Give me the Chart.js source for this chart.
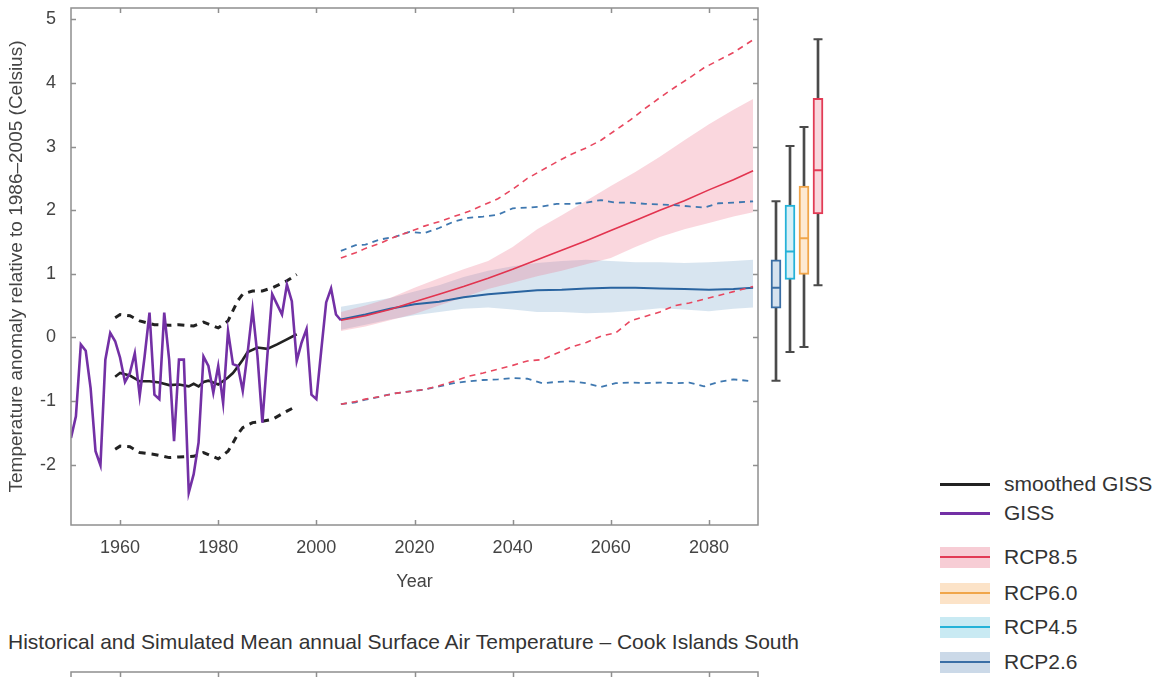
<!DOCTYPE html>
<html>
<head>
<meta charset="utf-8">
<script src="https://cdn.jsdelivr.net/npm/chart.js@4.4.1/dist/chart.umd.min.js"></script>
<style>
  html, body { margin: 0; padding: 0; background: #fff; overflow: hidden; }
  body { width: 1159px; height: 677px; position: relative; font-family: 'Liberation Sans', Arial, sans-serif; }
  canvas { position: absolute; }
  #main { left: 0; top: 0; }
  #boxes { left: 769px; top: 0; }
  #below { left: 0; top: 670px; }
  #title { position: absolute; left: 8px; top: 630px; font-size: 21px; color: #333; white-space: nowrap; }
  .lg { position: absolute; left: 940px; height: 0; }
  .lg .patch { position: absolute; left: 0; top: -10px; width: 50px; height: 21px; }
  .lg .ln { position: absolute; left: 0; width: 50px; }
  .lg span { position: absolute; left: 64px; top: 0; font-size: 21px; color: #333; white-space: nowrap; transform: translateY(-52%); }
</style>
</head>
<body>
<canvas id="main" width="770" height="600"></canvas>
<canvas id="boxes" width="56" height="540"></canvas>
<canvas id="below" width="770" height="100"></canvas>
<div id="title">Historical and Simulated Mean annual Surface Air Temperature – Cook Islands South</div>
<div id="legend"></div>
<script>
// ---- data ----
const xTicks = [1960, 1980, 2000, 2020, 2040, 2060, 2080];
const yTicks = [-2, -1, 0, 1, 2, 3, 4, 5];

const gissYears = [];
for (let y = 1950; y <= 2005; y++) gissYears.push(y);
const gissValues = [
  -1.58, -1.24, -0.11, -0.21, -0.80, -1.79, -2.01, -0.35, 0.07, -0.06,
  -0.32, -0.70, -0.56, -0.25, -0.92, -0.30, 0.39, -0.90, -0.97, 0.39,
  -0.35, -1.63, -0.35, -0.35, -2.44, -2.15, -1.65, -0.30, -0.45, -0.87,
  -0.45, -1.03, 0.10, -0.42, -0.45, -0.84, -0.24, 0.44, -0.29, -1.34,
  -0.30, 0.68, 0.52, 0.36, 0.83, 0.57, -0.37, -0.08, 0.13, -0.90,
  -0.97, -0.20, 0.55, 0.77, 0.36, 0.27
];

const smoothYears = [1959, 1960, 1961, 1962, 1964, 1966, 1968, 1970, 1972, 1974, 1975, 1976, 1977, 1978, 1980, 1982, 1983, 1984, 1985, 1986, 1988, 1990, 1992, 1994, 1996];
const smoothValues = [-0.62, -0.56, -0.58, -0.60, -0.69, -0.69, -0.71, -0.75, -0.74, -0.77, -0.73, -0.77, -0.70, -0.68, -0.74, -0.63, -0.56, -0.46, -0.35, -0.23, -0.16, -0.18, -0.11, -0.03, 0.05];

const smoothBandYears = [1959, 1960, 1962, 1964, 1967, 1970, 1972, 1975, 1977, 1980, 1982, 1983, 1984, 1985, 1987, 1989, 1991, 1994, 1996];
const smoothHi = [0.31, 0.36, 0.34, 0.26, 0.20, 0.19, 0.20, 0.18, 0.24, 0.15, 0.26, 0.42, 0.58, 0.68, 0.73, 0.73, 0.78, 0.89, 0.99];
const smoothLo = [-1.76, -1.71, -1.72, -1.81, -1.84, -1.89, -1.88, -1.87, -1.81, -1.91, -1.79, -1.66, -1.52, -1.42, -1.34, -1.32, -1.29, -1.16, -1.08];

const projYears = [2005, 2010, 2015, 2020, 2025, 2030, 2035, 2040, 2045, 2050, 2055, 2060, 2065, 2070, 2075, 2080, 2085, 2089];
const rcp85Mean = [0.27, 0.34, 0.44, 0.56, 0.68, 0.80, 0.93, 1.07, 1.22, 1.37, 1.52, 1.68, 1.84, 2.00, 2.15, 2.32, 2.48, 2.62];
const rcp85Lo = [0.10, 0.17, 0.27, 0.37, 0.50, 0.63, 0.76, 0.86, 0.96, 1.05, 1.15, 1.25, 1.42, 1.58, 1.70, 1.80, 1.90, 1.97];
const rcp85Hi = [0.40, 0.50, 0.62, 0.78, 0.93, 1.07, 1.20, 1.42, 1.70, 1.92, 2.15, 2.38, 2.60, 2.84, 3.10, 3.35, 3.58, 3.75];
const rcp26Mean = [0.28, 0.36, 0.45, 0.52, 0.56, 0.63, 0.68, 0.71, 0.74, 0.75, 0.77, 0.78, 0.78, 0.77, 0.76, 0.75, 0.76, 0.78];
const rcp26Lo = [0.12, 0.20, 0.28, 0.35, 0.40, 0.45, 0.47, 0.44, 0.40, 0.40, 0.38, 0.39, 0.42, 0.46, 0.44, 0.41, 0.45, 0.47];
const rcp26Hi = [0.48, 0.55, 0.62, 0.72, 0.82, 0.95, 1.05, 1.12, 1.17, 1.20, 1.22, 1.20, 1.18, 1.18, 1.17, 1.18, 1.20, 1.22];

const rangeYears = [2005, 2008, 2010, 2013, 2016, 2019, 2022, 2025, 2028, 2031, 2034, 2037, 2040, 2043, 2046, 2049, 2052, 2055, 2058, 2061, 2064, 2067, 2070, 2073, 2076, 2079, 2082, 2085, 2089];
const rcp85Max = [1.25, 1.33, 1.40, 1.48, 1.58, 1.66, 1.75, 1.82, 1.90, 1.98, 2.08, 2.18, 2.33, 2.50, 2.63, 2.76, 2.88, 2.98, 3.10, 3.26, 3.42, 3.60, 3.77, 3.93, 4.08, 4.24, 4.36, 4.48, 4.68];
const rcp85Min = [-1.05, -1.01, -0.97, -0.93, -0.88, -0.85, -0.82, -0.76, -0.69, -0.61, -0.56, -0.50, -0.44, -0.37, -0.35, -0.25, -0.15, -0.08, 0.02, 0.07, 0.26, 0.33, 0.40, 0.50, 0.54, 0.60, 0.66, 0.72, 0.80];
const rcp26Max = [1.36, 1.45, 1.46, 1.54, 1.58, 1.66, 1.64, 1.72, 1.82, 1.88, 1.90, 1.93, 2.03, 2.04, 2.06, 2.10, 2.10, 2.12, 2.16, 2.12, 2.12, 2.10, 2.09, 2.08, 2.06, 2.04, 2.11, 2.12, 2.14];
const rcp26Min = [-1.05, -1.02, -0.98, -0.93, -0.88, -0.85, -0.82, -0.77, -0.72, -0.69, -0.67, -0.66, -0.64, -0.65, -0.72, -0.70, -0.69, -0.72, -0.78, -0.72, -0.71, -0.72, -0.71, -0.72, -0.71, -0.77, -0.70, -0.66, -0.69];

// box plots (end of century)
const boxLabels = ['RCP2.6', 'RCP4.5', 'RCP6.0', 'RCP8.5'];
const whiskerLo = [-0.68, -0.23, -0.15, 0.82];
const boxLo = [0.46, 0.91, 0.99, 1.94];
const boxMedian = [0.78, 1.35, 1.56, 2.63];
const boxHi = [1.22, 2.08, 2.38, 3.76];
const whiskerHi = [2.14, 3.01, 3.31, 4.69];

// ---- styles ----
const RED = '#e2344f', RED_D = '#e8475f', BLUE = '#2a64a0', BLUE_D = '#3f78b0', PURPLE = '#7330a5', BLACK = '#222';
const boxLine = ['#3a6ea5', '#25b2d8', '#f0a54a', '#e23b55'];
const boxFill = ['#d6e2ee', '#d8f0f7', '#fde9d2', '#f9d7dd'];
const TXT = '#444';
const FRAME = '#8f8f8f';

const legendItems = [
  { label: 'smoothed GISS', line: BLACK, y: 484 },
  { label: 'GISS', line: PURPLE, y: 513 },
  { label: 'RCP8.5', line: '#e23b55', patch: '#f7cdd5', y: 557 },
  { label: 'RCP6.0', line: '#f0a54a', patch: '#fce3c8', y: 593 },
  { label: 'RCP4.5', line: '#25b2d8', patch: '#c9eaf3', y: 627 },
  { label: 'RCP2.6', line: '#3a6ea5', patch: '#cbd9e8', y: 662 }
];

const pts = (xs, ys) => xs.map((x, i) => ({ x, y: ys[i] }));
const line = (label, xs, ys, color, width, dash, extra) => Object.assign({
  label, data: pts(xs, ys), borderColor: color, borderWidth: width,
  borderDash: dash || [], pointRadius: 0, fill: false, tension: 0
}, extra || {});

// frame with inward tick marks, MATLAB style
const frame = {
  id: 'frame',
  afterDraw(chart, args, opts) {
    const { ctx, chartArea: a, scales } = chart;
    const len = 5;
    ctx.save();
    ctx.strokeStyle = FRAME;
    ctx.lineWidth = 1.5;
    ctx.strokeRect(a.left, a.top, a.width, a.height);
    ctx.beginPath();
    scales.x.ticks.forEach(t => {
      const px = Math.round(scales.x.getPixelForValue(t.value)) + 0.5;
      ctx.moveTo(px, a.bottom); ctx.lineTo(px, a.bottom - len);
      ctx.moveTo(px, a.top); ctx.lineTo(px, a.top + len);
    });
    if (opts.y) {
      scales.y.ticks.forEach(t => {
        const py = Math.round(scales.y.getPixelForValue(t.value)) + 0.5;
        ctx.moveTo(a.left, py); ctx.lineTo(a.left + len, py);
        ctx.moveTo(a.right, py); ctx.lineTo(a.right - len, py);
      });
    }
    ctx.stroke();
    ctx.restore();
  }
};

Chart.defaults.font.family = "'Liberation Sans', Arial, sans-serif";
Chart.defaults.color = TXT;

const Y_MIN = -2.95, Y_MAX = 5.18;

new Chart(document.getElementById('main'), {
  type: 'line',
  data: {
    datasets: [
      line('RCP8.5 max', rangeYears, rcp85Max, RED_D, 1.6, [6, 5]),
      line('RCP8.5 min', rangeYears, rcp85Min, RED_D, 1.6, [6, 5]),
      line('RCP2.6 max', rangeYears, rcp26Max, BLUE_D, 1.8, [6, 5]),
      line('RCP2.6 min', rangeYears, rcp26Min, BLUE_D, 1.8, [6, 5]),
      line('RCP8.5', projYears, rcp85Mean, RED, 1.6),
      line('RCP2.6', projYears, rcp26Mean, BLUE, 2),
      line('GISS', gissYears, gissValues, PURPLE, 2.6),
      line('smoothed GISS', smoothYears, smoothValues, BLACK, 2.6),
      line('smoothed GISS hi', smoothBandYears, smoothHi, BLACK, 3, [7, 6]),
      line('smoothed GISS lo', smoothBandYears, smoothLo, BLACK, 3, [7, 6]),
      line('RCP8.5 lo', projYears, rcp85Lo, 'transparent', 0),
      line('RCP8.5 hi', projYears, rcp85Hi, 'transparent', 0, null, { fill: '-1', backgroundColor: 'rgba(236,110,135,0.28)' }),
      line('RCP2.6 lo', projYears, rcp26Lo, 'transparent', 0),
      line('RCP2.6 hi', projYears, rcp26Hi, 'transparent', 0, null, { fill: '-1', backgroundColor: 'rgba(100,150,195,0.25)' })
    ]
  },
  options: {
    responsive: false,
    animation: false,
    layout: { autoPadding: false, padding: { top: 8, right: 12, left: 0, bottom: 0 } },
    plugins: { legend: { display: false }, tooltip: { enabled: false }, frame: { y: true } },
    scales: {
      x: {
        type: 'linear', min: 1950, max: 2090,
        afterBuildTicks: s => { s.ticks = xTicks.map(v => ({ value: v })); },
        afterFit: s => { s.height = 75; s.paddingLeft = 0; s.paddingRight = 0; },
        grid: { display: false }, border: { display: false },
        ticks: { font: { size: 18 }, padding: 4, maxRotation: 0, callback: v => String(v) },
        title: { display: true, text: 'Year', font: { size: 18, lineHeight: 1.2 }, padding: { bottom: 7 } }
      },
      y: {
        type: 'linear', min: Y_MIN, max: Y_MAX,
        afterBuildTicks: s => { s.ticks = yTicks.map(v => ({ value: v })); },
        afterFit: s => { s.width = 71; s.paddingTop = 0; s.paddingBottom = 0; },
        grid: { display: false }, border: { display: false },
        ticks: { font: { size: 18 }, padding: 7, callback: v => String(v) },
        title: { display: true, text: 'Temperature anomaly relative to 1986–2005 (Celsius)', font: { size: 19, lineHeight: 1.2 }, padding: { top: 5 } }
      }
    }
  },
  plugins: [frame]
});

// end-of-century box plots, sharing the main y range
new Chart(document.getElementById('boxes'), {
  type: 'bar',
  data: {
    labels: boxLabels,
    datasets: [
      { type: 'line', data: boxMedian, showLine: false, pointStyle: 'line', pointRadius: 4.5, pointBorderWidth: 2, pointBorderColor: boxLine, order: 0 },
      { type: 'line', data: whiskerHi, showLine: false, pointStyle: 'line', pointRadius: 4.5, pointBorderWidth: 2, pointBorderColor: '#4a4a4a', order: 1 },
      { type: 'line', data: whiskerLo, showLine: false, pointStyle: 'line', pointRadius: 4.5, pointBorderWidth: 2, pointBorderColor: '#4a4a4a', order: 1 },
      { data: boxLabels.map((_, i) => [boxLo[i], boxHi[i]]), backgroundColor: boxFill, borderColor: boxLine, borderWidth: 2, borderSkipped: false, barThickness: 10, grouped: false, order: 2 },
      { data: boxLabels.map((_, i) => [whiskerLo[i], whiskerHi[i]]), backgroundColor: '#4a4a4a', barThickness: 2, grouped: false, order: 3 }
    ]
  },
  options: {
    responsive: false,
    animation: false,
    layout: { autoPadding: false, padding: { top: 8, bottom: 15, left: 0, right: 0 } },
    plugins: { legend: { display: false }, tooltip: { enabled: false } },
    scales: {
      x: { display: false },
      y: { display: false, min: Y_MIN, max: Y_MAX }
    }
  }
});

// top edge of the next panel, cut off by the page
new Chart(document.getElementById('below'), {
  type: 'line',
  data: { datasets: [{ data: [] }] },
  options: {
    responsive: false,
    animation: false,
    layout: { autoPadding: false, padding: { top: 2, right: 12, left: 71, bottom: 0 } },
    plugins: { legend: { display: false }, tooltip: { enabled: false }, frame: { y: false } },
    scales: {
      x: {
        type: 'linear', min: 1950, max: 2090,
        afterBuildTicks: s => { s.ticks = xTicks.map(v => ({ value: v })); },
        grid: { display: false }, border: { display: false },
        ticks: { display: false }
      },
      y: { display: false, min: 0, max: 1 }
    }
  },
  plugins: [frame]
});

// legend
const lg = document.getElementById('legend');
legendItems.forEach(it => {
  const d = document.createElement('div');
  d.className = 'lg';
  d.style.top = it.y + 'px';
  if (it.patch) {
    const p = document.createElement('div');
    p.className = 'patch';
    p.style.background = it.patch;
    d.appendChild(p);
  }
  const l = document.createElement('div');
  l.className = 'ln';
  l.style.background = it.line;
  l.style.height = it.patch ? '2px' : '3px';
  l.style.top = it.patch ? '-1px' : '-1.5px';
  d.appendChild(l);
  const s = document.createElement('span');
  s.textContent = it.label;
  d.appendChild(s);
  lg.appendChild(d);
});
</script>
</body>
</html>
